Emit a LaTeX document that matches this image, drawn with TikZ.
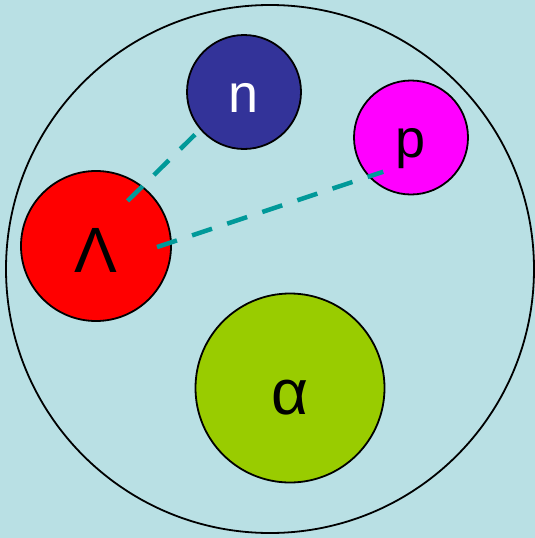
\documentclass[tikz,border=0pt]{standalone}
\usepackage{fontspec}
\setmainfont{Liberation Sans}
\usetikzlibrary{calc}
\definecolor{Sky}{HTML}{B9E0E4}
\definecolor{Navy}{HTML}{333399}
\definecolor{Pink}{HTML}{FF00FF}
\definecolor{Lime}{HTML}{99CC00}
\definecolor{Teal}{HTML}{009999}
\tikzset{
    shell/.style={circle, draw=black, line width=1.8pt, inner sep=0pt, minimum size=528pt},
    smallball/.style={circle, draw=black, line width=1.8pt, inner sep=0pt, minimum size=114pt, font=\fontsize{54}{60}\selectfont, text height=40pt, text depth=0pt},
    bigball/.style={circle, draw=black, line width=1.8pt, inner sep=0pt, font=\fontsize{64}{72}\selectfont, text height=52pt, text depth=0pt},
    bond/.style={Teal, line width=4.5pt, dash pattern=on 21pt off 16pt},
}

\begin{document}
\begin{tikzpicture}[x=1pt, y=-1pt]
    % Sfondo
    \fill[Sky] (0,0) rectangle (535,538);
    \useasboundingbox (0,0) rectangle (535,538);

    % Nucleo
    \node[shell] (nucleus) at (270,269) {};

    % Barioni
    \node[smallball, fill=Navy, text=white] (nn) at (244,92) {n};
    \node[smallball, fill=Pink] (pp) at (411,137.5) {p};
    \node[bigball, fill=red, minimum size=150pt] (lam) at (96,246) {Λ};
    \node[bigball, fill=Lime, minimum size=189pt] (alf) at (290,388) {α};

    % Legami
    \draw[bond] ([shift={(55:55pt)}]lam.center) -- ([shift={(221:65pt)}]nn.center);
    \draw[bond] ([shift={(-1:61pt)}]lam.center) -- ([shift={(231:44pt)}]pp.center);
\end{tikzpicture}
\end{document}
